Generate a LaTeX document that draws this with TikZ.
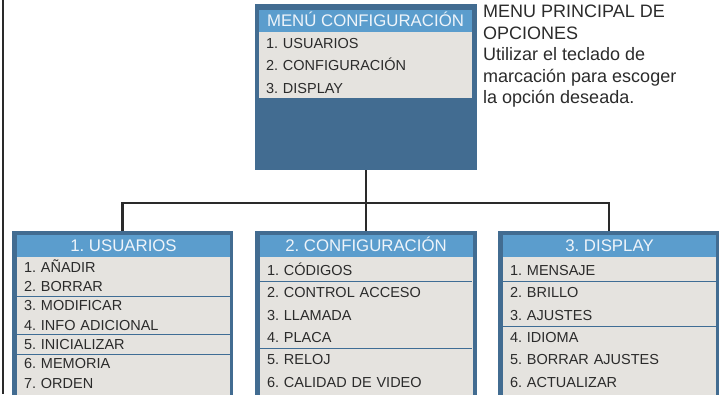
\documentclass[tikz,border=0pt]{standalone}
\usepackage{fontspec}
\setmainfont{Liberation Sans}
\usetikzlibrary{positioning}
\definecolor{frameblue}{HTML}{426C91}
\definecolor{headblue}{HTML}{5B9DCD}
\definecolor{headtext}{HTML}{EEF4FA}
\definecolor{bodygray}{HTML}{E5E3DF}
\definecolor{itemtext}{HTML}{2B2B2B}
\definecolor{sepblue}{HTML}{3F6D95}
\definecolor{linkgray}{HTML}{2A2A2A}
\frenchspacing

\begin{document}
\begin{tikzpicture}[x=1pt,y=-1pt,on grid,node distance=22.4pt,
  frame/.style={fill=frameblue,inner sep=0pt},
  head/.style={fill=headblue,text=headtext,inner sep=0pt,minimum width=213pt,
    minimum height=22pt,text height=11.8pt,text depth=0pt,
    font=\fontsize{16.8}{18}\selectfont},
  body/.style={fill=bodygray,inner sep=0pt,minimum width=213pt},
  item/.style={text=itemtext,inner sep=0pt,text width=190pt,align=left,
    text height=10.4pt,text depth=0pt,font=\fontsize{14.5}{16}\selectfont},
  note/.style={text=itemtext,inner sep=0pt,align=left,
    font=\fontsize{18}{21.5}\selectfont},
  sep/.style={draw=sepblue,line width=0.8pt},
  link/.style={draw=linkgray,line width=2.8pt}]
  \useasboundingbox (0,0) rectangle (719,394);
  \clip (0,0) rectangle (719,394);

  % main menu
  \node[frame,minimum width=222pt,minimum height=166pt] (menu) at (366,87) {};
  \node[head] (mhead) at (365.5,20.5) {MENÚ CONFIGURACIÓN};
  \node[body,minimum height=66pt] (mbody) at (365.5,65) {};
  \node[item] (m1) at (361,43) {1. USUARIOS};
  \node[item] (m2) [below=of m1] {2. CONFIGURACIÓN};
  \node[item] (m3) [below=of m2] {3. DISPLAY};

  \node[note,anchor=north west] (hint) at (483,5)
    {MENU PRINCIPAL DE\\OPCIONES\\Utilizar el teclado de\\marcación para escoger\\la opción deseada.};

  % submenus
  \node[frame,minimum width=221pt,minimum height=189pt] (usuarios) at (122.5,325.5) {};
  \node[head] (uhead) at (123.5,246) {1. USUARIOS};
  \node[body,minimum height=163pt] (ubody) at (123.5,338.5) {};
  \node[item] (u1) at (119,267) {1. AÑADIR};
  \node[item] (u2) [below=19.3pt of u1] {2. BORRAR};
  \node[item] (u3) [below=19.3pt of u2] {3. MODIFICAR};
  \node[item] (u4) [below=19.3pt of u3] {4. INFO ADICIONAL};
  \node[item] (u5) [below=19.3pt of u4] {5. INICIALIZAR};
  \node[item] (u6) [below=19.3pt of u5] {6. MEMORIA};
  \node[item] (u7) [below=19.3pt of u6] {7. ORDEN};
  \draw[sep] (17,296) -- (230,296);
  \draw[sep] (17,334.6) -- (230,334.6);
  \draw[sep] (17,354) -- (230,354);

  \node[frame,minimum width=222pt,minimum height=189pt] (config) at (366,325.5) {};
  \node[head] (chead) at (366,246) {2. CONFIGURACIÓN};
  \node[body,minimum height=163pt] (cbody) at (366,338.5) {};
  \node[item] (c1) at (362,270) {1. CÓDIGOS};
  \node[item] (c2) [below=of c1] {2. CONTROL ACCESO};
  \node[item] (c3) [below=of c2] {3. LLAMADA};
  \node[item] (c4) [below=of c3] {4. PLACA};
  \node[item] (c5) [below=of c4] {5. RELOJ};
  \node[item] (c6) [below=of c5] {6. CALIDAD DE VIDEO};
  \draw[sep] (260,281) -- (472,281);
  \draw[sep] (260,348) -- (472,348);

  \node[frame,minimum width=222pt,minimum height=189pt] (display) at (609,325.5) {};
  \node[head] (dhead) at (609.5,246) {3. DISPLAY};
  \node[body,minimum height=163pt] (dbody) at (609.5,338.5) {};
  \node[item] (d1) at (605,270) {1. MENSAJE};
  \node[item] (d2) [below=of d1] {2. BRILLO};
  \node[item] (d3) [below=of d2] {3. AJUSTES};
  \node[item] (d4) [below=of d3] {4. IDIOMA};
  \node[item] (d5) [below=of d4] {5. BORRAR AJUSTES};
  \node[item] (d6) [below=of d5] {6. ACTUALIZAR};
  \draw[sep] (503,281) -- (719,281);
  \draw[sep] (503,326) -- (719,326);

  % connectors
  \coordinate (bus) at (366,203);
  \draw[link] (menu.south) -- (bus) -| (usuarios.north);
  \draw[link] (bus) -| (display.north);
  \draw[link] (bus) -- (config.north);
  \coordinate (railtop) at (3,0);
  \coordinate (railend) at (3,394);
  \draw[link] (railtop) -- (railend);
\end{tikzpicture}
\end{document}
